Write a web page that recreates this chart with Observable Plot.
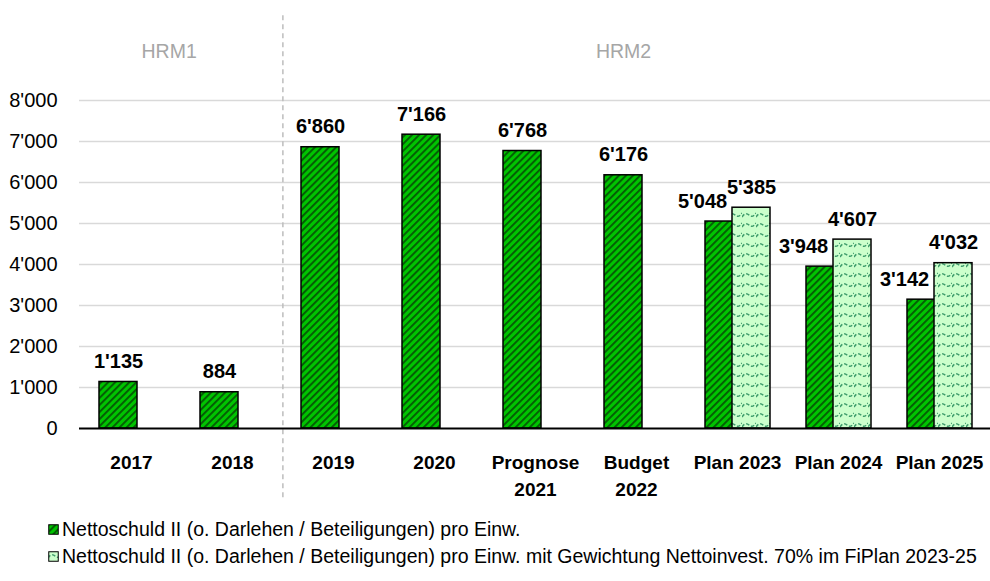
<!DOCTYPE html>
<html>
<head>
<meta charset="utf-8">
<script src="https://cdn.jsdelivr.net/npm/d3@7"></script>
<script src="https://cdn.jsdelivr.net/npm/@observablehq/plot@0.6"></script>
<style>
  html, body { margin: 0; padding: 0; background: #fff; }
  #chart { width: 990px; }
  .legend { font-family: "Liberation Sans", Arial, sans-serif; font-size: 19.5px; color: #000; padding-left: 48px; padding-top: 16px; }
  .legend .row { height: 27px; display: flex; align-items: center; white-space: nowrap; }
  .legend svg { margin-right: 3px; flex: none; }
</style>
</head>
<body>
<div id="chart"></div>
<script>
// ---- data ----
const categories = ["2017", "2018", "2019", "2020", "Prognose\n2021", "Budget\n2022", "Plan 2023", "Plan 2024", "Plan 2025"];
const nettoschuld = [1135, 884, 6860, 7166, 6768, 6176, 5048, 3948, 3142];
const gewichtet = [null, null, null, null, null, null, 5385, 4607, 4032];
const yTicks = [0, 1000, 2000, 3000, 4000, 5000, 6000, 7000, 8000];
const seriesNames = [
  "Nettoschuld II (o. Darlehen / Beteiligungen) pro Einw.",
  "Nettoschuld II (o. Darlehen / Beteiligungen) pro Einw. mit Gewichtung Nettoinvest. 70% im FiPlan 2023-25"
];
const groupLabels = ["HRM1", "HRM2"];
const groupAnchors = ["2017", "Budget\n2022"];
const dividerCategory = "2019";

// ---- layout ----
const W = 990, H = 500, ML = 79, MR = 0, MT = 100, MB = 72;
const step = (W - ML - MR) / categories.length;
const FONT = '"Liberation Sans", Arial, sans-serif';
const fmt = d => d3.format(",")(d).replace(/,/g, "'");

const rows1 = categories.map((c, i) => ({cat: c, v: nettoschuld[i], paired: gewichtet[i] != null}));
const rows2 = categories.map((c, i) => ({cat: c, v: gewichtet[i]})).filter(d => d.v != null);

const chart = Plot.plot({
  width: W, height: H,
  marginLeft: ML, marginRight: MR, marginTop: MT, marginBottom: MB,
  style: {fontFamily: FONT, fontSize: "19px", color: "#000", background: "#fff", overflow: "visible"},
  x: {domain: categories, paddingInner: 0.625, paddingOuter: 0.3125, label: null},
  y: {domain: [0, 8000], label: null},
  marks: [
    Plot.gridY(yTicks.filter(d => d > 0), {stroke: "#d9d9d9", strokeOpacity: 1, strokeWidth: 1.5}),
    Plot.ruleX([dividerCategory], {x: d => d, dx: -step / 2, y1: 10070, y2: -1700, stroke: "#bdbdbd", strokeWidth: 1.5, strokeDasharray: "5,4"}),
    Plot.barY(rows1, {x: "cat", y: "v", dx: -13, fill: "url(#patDark)", stroke: "#000", strokeWidth: 1.5}),
    Plot.barY(rows2, {x: "cat", y: "v", dx: 14, fill: "url(#patLight)", stroke: "#000", strokeWidth: 1.5}),
    Plot.ruleY([0], {stroke: "#000", strokeWidth: 2}),
    Plot.text(rows1.filter(d => !d.paired), {x: "cat", y: "v", text: d => fmt(d.v), dx: -13, dy: -14, lineAnchor: "bottom", fontWeight: "bold", fontSize: 20}),
    Plot.text(rows1.filter(d => d.paired), {x: "cat", y: "v", text: d => fmt(d.v), dx: -35, dy: -14, lineAnchor: "bottom", fontWeight: "bold", fontSize: 20}),
    Plot.text(rows2, {x: "cat", y: "v", text: d => fmt(d.v), dx: 14, dy: -14, lineAnchor: "bottom", fontWeight: "bold", fontSize: 20}),
    Plot.text([groupLabels[0]], {x: () => groupAnchors[0], text: d => d, frameAnchor: "top", dx: step / 2 - 13, dy: -49, lineAnchor: "middle", fill: "#a6a6a6", fontSize: 19.5}),
    Plot.text([groupLabels[1]], {x: () => groupAnchors[1], text: d => d, frameAnchor: "top", dx: -13, dy: -49, lineAnchor: "middle", fill: "#a6a6a6", fontSize: 19.5}),
    Plot.axisY(yTicks, {tickSize: 0, tickPadding: 22, tickFormat: fmt, fontSize: 20, label: null}),
    Plot.axisX({tickSize: 0, tickPadding: 21, fontWeight: "bold", fontSize: 19, lineHeight: 1.42, label: null})
  ]
});

const defs = `
<defs>
  <pattern id="patDark" patternUnits="userSpaceOnUse" width="5" height="5" patternTransform="rotate(45)">
    <rect width="5" height="5" fill="#00c400"></rect>
    <rect width="1.9" height="5" fill="#055a05"></rect>
  </pattern>
  <pattern id="patLight" patternUnits="userSpaceOnUse" width="14" height="10">
    <rect width="14" height="10" fill="#ccffcc"></rect>
    <path d="M0,7 Q3.5,1.5 7,5 T14,3" fill="none" stroke="#3d9b6b" stroke-width="1.5" stroke-dasharray="3.5,2"></path>
  </pattern>
</defs>`;
chart.insertAdjacentHTML("afterbegin", defs);
document.getElementById("chart").appendChild(chart);

// ---- legend ----
const legend = document.createElement("div");
legend.className = "legend";
const fills = ["url(#patDark)", "url(#patLight)"];
seriesNames.forEach((name, i) => {
  const row = document.createElement("div");
  row.className = "row";
  row.innerHTML = `<svg width="11" height="11"><rect x="0.75" y="0.75" width="9.5" height="9.5" fill="${fills[i]}" stroke="#000" stroke-width="1"></rect></svg><span>${name}</span>`;
  legend.appendChild(row);
});
document.getElementById("chart").appendChild(legend);
</script>
</body>
</html>
